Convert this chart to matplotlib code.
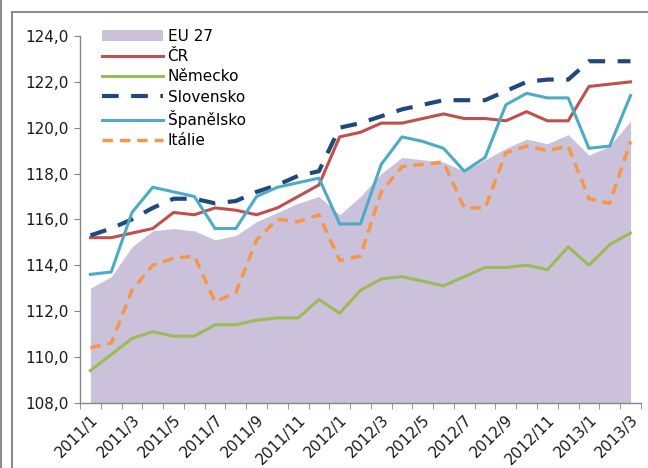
import numpy as np
import matplotlib.pyplot as plt
from matplotlib.lines import Line2D

plt.rcParams['font.family'] = ['DejaVu Sans']

# mesice 2011/1 - 2013/3
mesice = ['2011/1', '2011/2', '2011/3', '2011/4', '2011/5', '2011/6', '2011/7',
          '2011/8', '2011/9', '2011/10', '2011/11', '2011/12',
          '2012/1', '2012/2', '2012/3', '2012/4', '2012/5', '2012/6', '2012/7',
          '2012/8', '2012/9', '2012/10', '2012/11', '2012/12',
          '2013/1', '2013/2', '2013/3']

eu27 = [113.0, 113.5, 114.8, 115.5, 115.6, 115.5, 115.1, 115.3, 115.9, 116.3, 116.7, 117.0,
        116.2, 117.0, 118.0, 118.7, 118.6, 118.5, 118.1, 118.6, 119.1, 119.5, 119.3, 119.7,
        118.8, 119.2, 120.3]
cr = [115.2, 115.2, 115.4, 115.6, 116.3, 116.2, 116.5, 116.4, 116.2, 116.5, 117.0, 117.5,
      119.6, 119.8, 120.2, 120.2, 120.4, 120.6, 120.4, 120.4, 120.3, 120.7, 120.3, 120.3,
      121.8, 121.9, 122.0]
nemecko = [109.4, 110.1, 110.8, 111.1, 110.9, 110.9, 111.4, 111.4, 111.6, 111.7, 111.7, 112.5,
           111.9, 112.9, 113.4, 113.5, 113.3, 113.1, 113.5, 113.9, 113.9, 114.0, 113.8, 114.8,
           114.0, 114.9, 115.4]
slovensko = [115.3, 115.6, 116.0, 116.5, 116.9, 116.9, 116.7, 116.8, 117.2, 117.5, 117.9, 118.1,
             120.0, 120.2, 120.5, 120.8, 121.0, 121.2, 121.2, 121.2, 121.6, 122.0, 122.1, 122.1,
             122.9, 122.9, 122.9]
spanelsko = [113.6, 113.7, 116.3, 117.4, 117.2, 117.0, 115.6, 115.6, 117.0, 117.4, 117.6, 117.8,
             115.8, 115.8, 118.4, 119.6, 119.4, 119.1, 118.1, 118.7, 121.0, 121.5, 121.3, 121.3,
             119.1, 119.2, 121.4]
italie = [110.4, 110.6, 112.9, 114.0, 114.3, 114.4, 112.4, 112.8, 115.1, 116.0, 115.9, 116.2,
          114.2, 114.4, 117.2, 118.3, 118.4, 118.5, 116.5, 116.5, 118.9, 119.2, 119.0, 119.2,
          116.9, 116.7, 119.4]

x = np.arange(len(mesice))
seda = '#868686'

fig = plt.figure(figsize=(6.48, 4.68), dpi=100)
ax = fig.add_axes([0.1235, 0.1396, 0.8655, 0.7834])

ax.fill_between(x, eu27, 108, color='#CCC1DA', linewidth=0, label='EU 27')
ax.plot(x, cr, color='#C0504D', lw=2.2, label='ČR')
ax.plot(x, nemecko, color='#9BBB59', lw=2.2, label='Německo')
ax.plot(x, slovensko, color='#1F497D', lw=3, dashes=(4, 3), label='Slovensko')
ax.plot(x, spanelsko, color='#4BACC6', lw=2.2, label='Španělsko')
ax.plot(x, italie, color='#F79646', lw=2.5, dashes=(3, 2), label='Itálie')

ax.set_xlim(-0.5, len(mesice) - 0.5)
ax.set_ylim(108, 124)

yt = np.arange(108, 125, 2)
ax.set_yticks(yt)
ax.set_yticklabels([('%.1f' % v).replace('.', ',') for v in yt], fontsize=11, color='#1a1a1a')

ax.set_xticks(x[::2])
ax.set_xticklabels(mesice[::2], rotation=45, ha='right', rotation_mode='anchor',
                   fontsize=11, color='#1a1a1a')
ax.set_xticks(np.arange(-0.5, len(mesice)), minor=True)
ax.tick_params(axis='x', which='major', length=0, pad=7)
ax.tick_params(axis='x', which='minor', length=4, color=seda, direction='out')
ax.tick_params(axis='y', length=4, color=seda, direction='out', pad=4)

for s in ['top', 'right']:
    ax.spines[s].set_visible(False)
for s in ['left', 'bottom']:
    ax.spines[s].set_color(seda)
    ax.spines[s].set_linewidth(1)

ax.legend(loc='upper left', bbox_to_anchor=(0.039, 1.019), frameon=False, fontsize=11,
          handlelength=4.0, handletextpad=0.3, labelspacing=0.34,
          borderpad=0, borderaxespad=0)

# ramecek kolem grafu
fig.add_artist(Line2D([12/648, 1], [1 - 12/468, 1 - 12/468], color='#8c8c8c', lw=1.5,
                      transform=fig.transFigure))
fig.add_artist(Line2D([12/648, 12/648], [0, 1 - 12/468], color='#8c8c8c', lw=1.5,
                      transform=fig.transFigure))
fig.add_artist(Line2D([1/648, 1/648], [0, 1], color='#8c8c8c', lw=1.5,
                      transform=fig.transFigure))

plt.savefig('out.png', dpi=100)
